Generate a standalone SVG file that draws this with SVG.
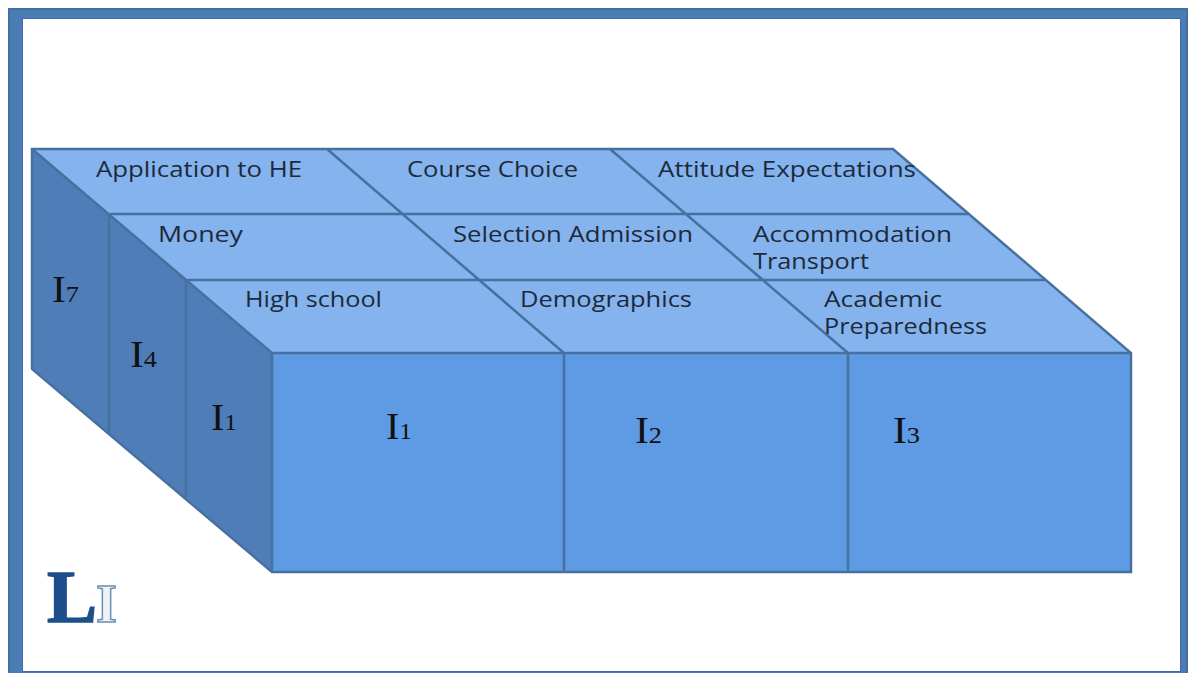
<svg xmlns="http://www.w3.org/2000/svg" width="1188" height="673" viewBox="0 0 1188 673">
<style>
.e{stroke:#46719f;stroke-width:2.5;stroke-linejoin:miter;fill:none}
.top{fill:#84b3ee}
.front{fill:#5f9ae5}
.side{fill:#4f7db8}
.t{font-family:"Open Sans",sans-serif;font-size:21px;fill:#1d2a3a}
.i{font-family:"Liberation Serif",serif;font-size:38px;fill:#111}
.s{font-size:24px}
</style>
<rect x="0" y="0" width="1188" height="673" fill="#fff"/>
<g id="frame">
<rect x="8" y="8" width="1180" height="665" fill="#44709f"/>
<rect x="10" y="10" width="1176" height="663" fill="#4c7cb6"/>
<rect x="22" y="18" width="1159" height="654" fill="#3f6ca3"/>
<rect x="23" y="19" width="1157" height="652" fill="#fff"/>
</g>
<g id="faces">
<polygon class="top" points="32,149 893,149 1131,353 272,353"/>
<polygon class="side" points="32,149 272,353 272,572 32,369"/>
<polygon class="front" points="272,353 1131,353 1131,572 272,572"/>
</g>
<g id="connectors">
<polygon class="e" points="32,149 893,149 1131,353 1131,572 272,572 32,369"/>
<path class="e" d="M32,149L272,353M272,353H1131M272,353V572M564,353V572M848,353V572M110,214H968M186,280H1046M327,149L564,353M610,149L848,353M109,214V432M186,280V497"/>
</g>
<g id="n-application"><text class="t" x="96" y="177" textLength="206" lengthAdjust="spacingAndGlyphs">Application to HE</text></g>
<g id="n-course"><text class="t" x="407" y="177" textLength="171" lengthAdjust="spacingAndGlyphs">Course Choice</text></g>
<g id="n-attitude"><text class="t" x="658" y="177" textLength="258" lengthAdjust="spacingAndGlyphs">Attitude Expectations</text></g>
<g id="n-money"><text class="t" x="158" y="242" textLength="85" lengthAdjust="spacingAndGlyphs">Money</text></g>
<g id="n-selection"><text class="t" x="453" y="242" textLength="240" lengthAdjust="spacingAndGlyphs">Selection Admission</text></g>
<g id="n-accommodation"><text class="t" x="753" y="242" textLength="199" lengthAdjust="spacingAndGlyphs">Accommodation</text><text class="t" x="753" y="269" textLength="116" lengthAdjust="spacingAndGlyphs">Transport</text></g>
<g id="n-highschool"><text class="t" x="245" y="307" textLength="137" lengthAdjust="spacingAndGlyphs">High school</text></g>
<g id="n-demographics"><text class="t" x="520" y="307" textLength="172" lengthAdjust="spacingAndGlyphs">Demographics</text></g>
<g id="n-academic"><text class="t" x="824" y="307" textLength="118" lengthAdjust="spacingAndGlyphs">Academic</text><text class="t" x="824" y="334" textLength="163" lengthAdjust="spacingAndGlyphs">Preparedness</text></g>
<g id="n-side7"><text class="i" x="52" y="302" textLength="27" lengthAdjust="spacingAndGlyphs">I<tspan class="s">7</tspan></text></g>
<g id="n-side4"><text class="i" x="130" y="367" textLength="27" lengthAdjust="spacingAndGlyphs">I<tspan class="s">4</tspan></text></g>
<g id="n-side1"><text class="i" x="211" y="430" textLength="26" lengthAdjust="spacingAndGlyphs">I<tspan class="s">1</tspan></text></g>
<g id="n-front1"><text class="i" x="386" y="439" textLength="26" lengthAdjust="spacingAndGlyphs">I<tspan class="s">1</tspan></text></g>
<g id="n-front2"><text class="i" x="635" y="443" textLength="27" lengthAdjust="spacingAndGlyphs">I<tspan class="s">2</tspan></text></g>
<g id="n-front3"><text class="i" x="893" y="443" textLength="27" lengthAdjust="spacingAndGlyphs">I<tspan class="s">3</tspan></text></g>
<g id="n-li"><text x="47" y="622" font-family="Liberation Serif,serif" font-weight="700" font-size="75" fill="#1f4e8c" stroke="#1f4e8c" stroke-width="1.5">L</text><text x="96" y="622" font-family="Liberation Serif,serif" font-weight="700" font-size="54" fill="#eef3f4" stroke="#6d8fb5" stroke-width="1.5">I</text></g>
</svg>
